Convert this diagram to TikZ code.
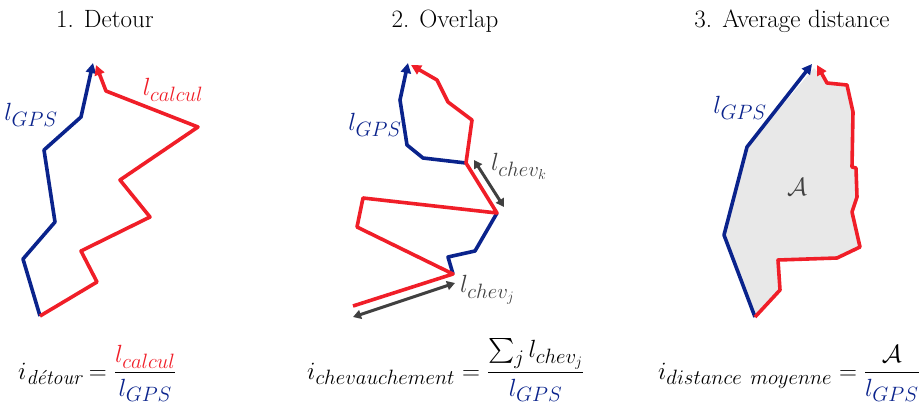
\documentclass[tikz,border=0pt]{standalone}
\usepackage{amsmath}
\usetikzlibrary{arrows.meta}
\definecolor{gpsblue}{RGB}{10,35,140}
\definecolor{calcred}{RGB}{240,30,40}
\definecolor{chevgray}{RGB}{64,64,64}
\definecolor{areagray}{RGB}{232,232,232}
\tikzset{
  route/.style={line width=3.6pt, line join=round},
  gps/.style={route, draw=gpsblue},
  calc/.style={route, draw=calcred},
  tip/.style={-{Triangle[length=10pt,width=10pt]}},
  chev/.style={draw=chevgray, line width=3pt, {Triangle[length=8pt,width=9pt]}-{Triangle[length=8pt,width=9pt]}},
  title/.style={font=\fontsize{25}{30}\selectfont, anchor=base, inner sep=0pt},
  lbl/.style={font=\fontsize{28}{32}\selectfont, inner sep=0pt},
  formula/.style={font=\fontsize{29}{33}\selectfont, anchor=base west, inner sep=0pt},
}
\begin{document}
\begin{tikzpicture}[x=1pt,y=-1pt]
\useasboundingbox (0,0) rectangle (922,408);

% titles
\node[title] (t1) at (105,27) {1. Detour};
\node[title] (t2) at (445,27) {2. Overlap};
\node[title] (t3) at (792,27) {3. Average distance};

% ---------- panel 1
\coordinate (d0) at (40,316);
\draw[gps,tip] (d0) -- (23,259) -- (55,222) -- (44,150) -- (81,117) -- (93,63);
\draw[calc,tip] (d0) -- (97,282) -- (81,251) -- (150,217) -- (120,180) -- (198,127) -- (106,91) -- (96,65);
\node[lbl,text=calcred] (lc1) at (173,90) {$l_{calcul}$};
\node[lbl,text=gpsblue] (lg1) at (31,115) {$l_{GPS}$};

% ---------- panel 2
\coordinate (o1) at (453,274);
\coordinate (o2) at (497,213);
\coordinate (o3) at (466,163);
\draw[gps] (o1) -- (448,257) -- (475,251) -- (o2);
\draw[gps,tip] (o3) -- (423,158) -- (407,145) -- (400,100) -- (408,63);
\draw[calc,tip] (353,306) -- (o1) -- (357,227) -- (363,198) -- (o2) -- (o3) -- (472,120) -- (448,102) -- (437,80) -- (411,65);
\coordinate (k1) at (474,160);
\coordinate (k2) at (504,207);
\draw[chev] (k1) -- (k2);
\coordinate (j1) at (353,317);
\coordinate (j2) at (455,283);
\draw[chev] (j1) -- (j2);
\node[lbl,text=gpsblue] (lg2) at (375,125) {$l_{GPS}$};
\node[lbl,text=chevgray,anchor=west] (lk) at (491,166) {$l_{chev_k}$};
\node[lbl,text=chevgray,anchor=west] (lj) at (460,290) {$l_{chev_j}$};

% ---------- panel 3
\coordinate (p0) at (755,317);
\fill[areagray] (p0) -- (724,235) -- (747,147) -- (814,68) -- (827,83) -- (847,85) -- (853,112) -- (852,167) -- (856,168) -- (857,197) -- (852,212) -- (860,247) -- (837,258) -- (778,260) -- (780,290) -- cycle;
\draw[gps,tip] (p0) -- (724,235) -- (747,147) -- (812,64);
\draw[calc,tip] (p0) -- (780,290) -- (778,260) -- (837,258) -- (860,247) -- (852,212) -- (857,197) -- (856,168) -- (852,167) -- (853,112) -- (847,85) -- (827,83) -- (817,65);
\node[lbl,text=gpsblue] (lg3) at (740,108) {$l_{GPS}$};
\node[lbl,text=chevgray] (la) at (797,187) {$\mathcal{A}$};

% ---------- formulas
\node[formula] (f1) at (18,379) {$i_{\text{\itshape détour}} = \dfrac{\textcolor{calcred}{l_{calcul}}}{\textcolor{gpsblue}{l_{GPS}}}$};
\node[formula] (f2) at (307,379) {$i_{chevauchement} = \dfrac{\textstyle\sum_j l_{chev_j}}{\textcolor{gpsblue}{l_{GPS}}}$};
\node[formula,anchor=base east] (f3) at (920,379) {$i_{distance\ moyenne} = \dfrac{\mathcal{A}}{\textcolor{gpsblue}{l_{GPS}}}$};
\end{tikzpicture}
\end{document}
